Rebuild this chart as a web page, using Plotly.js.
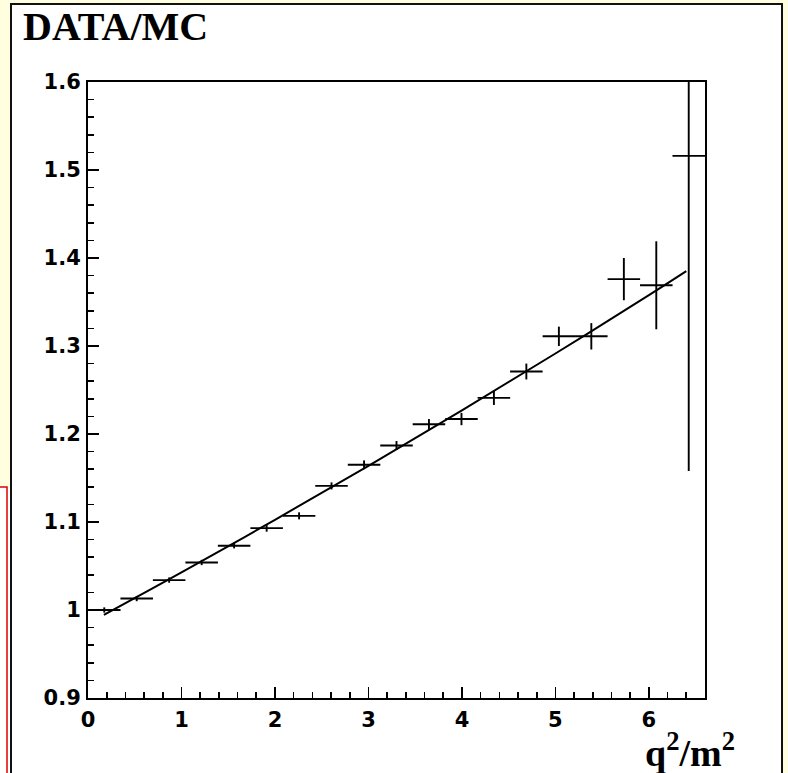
<!DOCTYPE html>
<html>
<head>
<meta charset="utf-8">
<script src="https://cdn.plot.ly/plotly-3.0.1.min.js"></script>
<style>
html,body{margin:0;padding:0;background:#ffffe0;}
#chart{width:788px;height:773px;}
</style>
</head>
<body>
<div id="chart"></div>
<script>
// Bin centres (q^2/m^2) and half bin width
var binCenters = [0.174, 0.521, 0.868, 1.216, 1.563, 1.911, 2.258, 2.605, 2.953, 3.300,
                  3.647, 3.995, 4.342, 4.689, 5.037, 5.384, 5.732, 6.079, 6.426];
var binHalfWidth = [0.174, 0.174, 0.174, 0.174, 0.174, 0.174, 0.174, 0.174, 0.174, 0.174,
                    0.174, 0.174, 0.174, 0.174, 0.174, 0.174, 0.174, 0.174, 0.174];
// DATA/MC ratio and its error
var ratio = [1.000, 1.013, 1.034, 1.054, 1.073, 1.093, 1.107, 1.141, 1.165, 1.187,
             1.211, 1.217, 1.241, 1.271, 1.311, 1.311, 1.376, 1.369, 1.516];
var ratioErr = [0.003, 0.003, 0.003, 0.003, 0.003, 0.004, 0.004, 0.004, 0.005, 0.005,
                0.006, 0.007, 0.008, 0.009, 0.011, 0.015, 0.024, 0.050, 0.358];
// Fitted curve
var fitX = [0.17, 1.0, 2.0, 3.0, 4.0, 5.0, 6.0, 6.40];
var fitY = [0.9944, 1.0427, 1.1025, 1.1639, 1.2269, 1.2915, 1.3577, 1.3850];

var xTickVals = [0, 1, 2, 3, 4, 5, 6];
var yTickVals = [0.9, 1, 1.1, 1.2, 1.3, 1.4, 1.5, 1.6];
var yTickText = ['0.9', '1', '1.1', '1.2', '1.3', '1.4', '1.5', '1.6'];

var traces = [
  {
    type: 'scatter', mode: 'markers',
    x: binCenters, y: ratio,
    marker: {size: 1, color: 'rgba(0,0,0,0)'},
    error_x: {type: 'data', array: binHalfWidth, visible: true, color: 'black', thickness: 1.9, width: 0},
    error_y: {type: 'data', array: ratioErr, visible: true, color: 'black', thickness: 1.9, width: 0},
    hoverinfo: 'x+y'
  },
  {
    type: 'scatter', mode: 'lines',
    x: fitX, y: fitY,
    line: {color: 'black', width: 2, shape: 'spline'},
    hoverinfo: 'skip'
  }
];

var tickFont = {family: 'DejaVu Sans', size: 21, weight: 'bold', color: 'black'};

var layout = {
  width: 788, height: 773,
  paper_bgcolor: '#ffffe0',
  plot_bgcolor: 'rgba(0,0,0,0)',
  showlegend: false,
  margin: {l: 88, r: 83, t: 82, b: 75, pad: 0},
  xaxis: {
    range: [0, 6.6],
    tickmode: 'array', tickvals: xTickVals,
    ticks: 'inside', ticklen: 11, tickwidth: 1.6, tickcolor: 'black',
    minor: {dtick: 0.2, ticks: 'inside', ticklen: 6, tickwidth: 1.6, tickcolor: 'black', showgrid: false},
    showline: true, linecolor: 'black', linewidth: 2, mirror: true,
    showgrid: false, zeroline: false,
    tickfont: tickFont, ticklabelstandoff: 2
  },
  yaxis: {
    range: [0.9, 1.6],
    tickmode: 'array', tickvals: yTickVals, ticktext: yTickText,
    ticks: 'inside', ticklen: 11, tickwidth: 1.6, tickcolor: 'black',
    minor: {dtick: 0.02, ticks: 'inside', ticklen: 6, tickwidth: 1.6, tickcolor: 'black', showgrid: false},
    showline: true, linecolor: 'black', linewidth: 2, mirror: true,
    showgrid: false, zeroline: false,
    tickfont: tickFont, ticklabelstandoff: 1
  },
  shapes: [
    // red-bordered pad peeking out at the left
    {type: 'rect', layer: 'below', xref: 'paper', yref: 'paper',
     xsizemode: 'pixel', ysizemode: 'pixel', xanchor: 0, yanchor: 0,
     x0: -100, x1: -78, y0: -100, y1: 211,
     fillcolor: 'white', line: {width: 0}},
    {type: 'rect', layer: 'below', xref: 'paper', yref: 'paper',
     xsizemode: 'pixel', ysizemode: 'pixel', xanchor: 0, yanchor: 0,
     x0: -100, x1: -81, y0: -100, y1: 211,
     fillcolor: 'rgba(0,0,0,0)', line: {color: '#e00000', width: 1.5}},
    // main white pad frame
    {type: 'rect', layer: 'below', xref: 'paper', yref: 'paper',
     xsizemode: 'pixel', ysizemode: 'pixel', xanchor: 0, yanchor: 0,
     x0: -77, x1: 694, y0: -100, y1: 694,
     fillcolor: 'white', line: {color: '#111111', width: 2}}
  ],
  annotations: [
    {text: '<b>DATA/MC</b>', xref: 'paper', yref: 'paper',
     x: -0.108, y: 1.0905, xanchor: 'left', yanchor: 'middle', showarrow: false,
     font: {family: 'Liberation Serif', size: 40, color: 'black'}},
    {text: '<b>q<sup>2</sup>/m<sup>2</sup></b>', xref: 'paper', yref: 'paper',
     x: 1.052, y: -0.085, xanchor: 'right', yanchor: 'middle', showarrow: false,
     font: {family: 'Liberation Serif', size: 38, color: 'black'}}
  ]
};

Plotly.newPlot('chart', traces, layout, {displayModeBar: false, staticPlot: true});
</script>
</body>
</html>
